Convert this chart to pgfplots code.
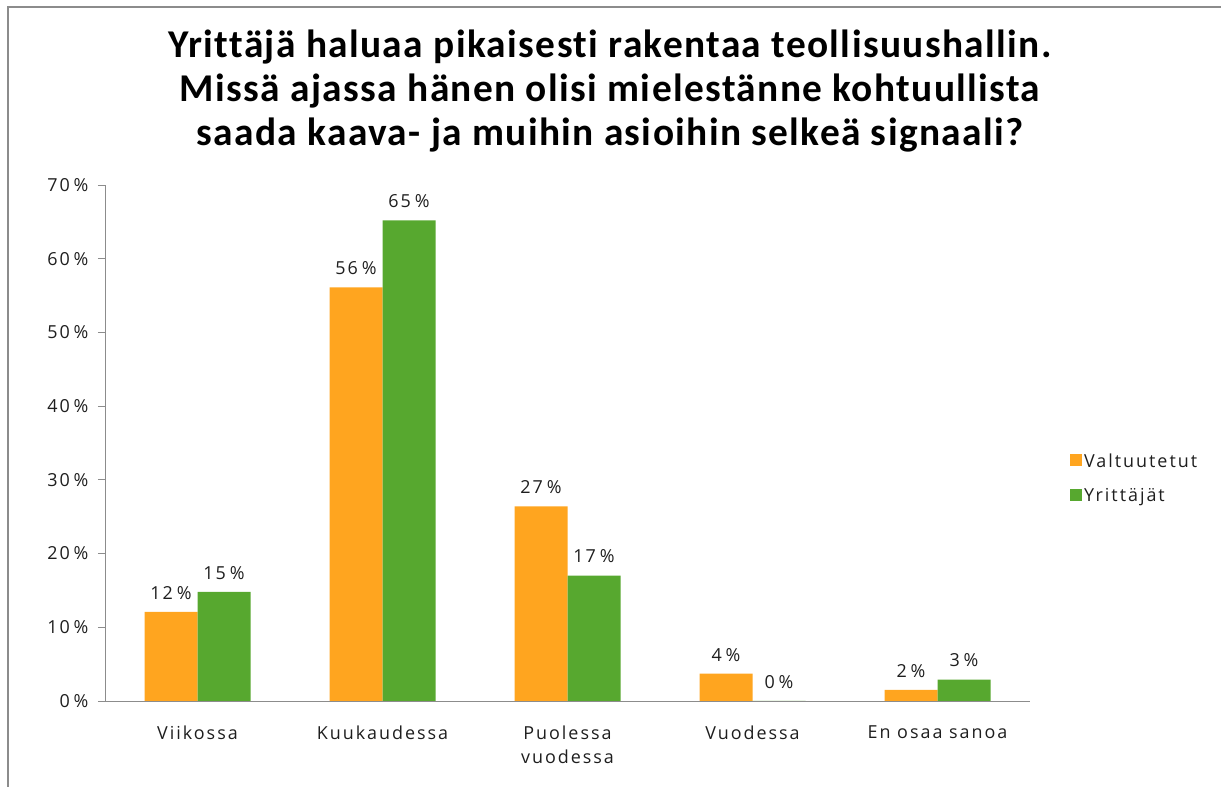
\documentclass[border=0pt]{standalone}
\usepackage{fontspec}
\setmainfont{Open Sans}
\newfontfamily\lab[LetterSpace=11]{Open Sans}
\newfontfamily\ttl[LetterSpace=3.5, Ligatures={NoCommon}]{Carlito}
\usepackage{pgfplots}
\pgfplotsset{compat=1.18}
\definecolor{cOr}{RGB}{255,165,31}
\definecolor{cGr}{RGB}{87,168,47}
\definecolor{axgray}{RGB}{140,140,140}
\definecolor{txt}{RGB}{30,30,30}
\newcommand{\pc}{\hspace{0.22em}\%}
\begin{document}
\begin{tikzpicture}
\path[use as bounding box] (0,0) rectangle (1221bp,787bp);
\draw[axgray, line width=2bp] (8bp,0) -- (8bp,780bp) -- (1221bp,780bp);
\node[anchor=north, align=center, inner sep=0pt, font=\ttl\fontsize{39.5}{44}\selectfont\bfseries]
  at (610bp,757bp) {Yrittäjä haluaa pikaisesti rakentaa teollisuushallin.\\Missä ajassa hänen olisi mielestänne kohtuullista\\saada kaava- ja muihin asioihin selkeä signaali?};
\begin{axis}[
  at={(105bp,86bp)}, anchor=south west,
  scale only axis, width=925bp, height=516bp,
  xmin=-0.5, xmax=4.5, ymin=0, ymax=70,
  ybar=0pt, bar width=53bp,
  axis x line*=bottom, axis y line*=left,
  axis line style={axgray, line width=0.8pt},
  tick style={axgray, line width=0.8pt},
  tick align=outside,
  xtick={0,1,2,3,4},
  major x tick style={draw=none},
  xticklabels={Viikossa,Kuukaudessa,Puolessa\\vuodessa,Vuodessa,En osaa sanoa},
  xticklabel style={align=center, font=\lab\fontsize{18}{24}\selectfont, text=txt, yshift=-14bp},
  extra x ticks={-0.5,0.5,1.5,2.5,3.5,4.5},
  extra x tick labels={},
  extra x tick style={major tick length=7bp, tick style={axgray, line width=0.8pt}},
  ytick={0,10,...,70},
  major tick length=7bp,
  yticklabels={0\pc,10\pc,20\pc,30\pc,40\pc,50\pc,60\pc,70\pc},
  yticklabel style={font=\lab\fontsize{18}{21}\selectfont, text=txt, xshift=-6bp},
  point meta=explicit symbolic,
  nodes near coords,
  nodes near coords style={font=\lab\fontsize{18}{21}\selectfont, text=txt, yshift=9bp},
  legend style={at={(1.040,0.431)}, anchor=west, draw=none, fill=none,
    font=\lab\fontsize{18}{21}\selectfont, text=txt, row sep=16bp,
    /tikz/every even column/.append style={column sep=4bp}},
  legend cell align=left,
  legend image code/.code={\fill[#1] (0bp,-5bp) rectangle (12bp,7bp);},
]
\addplot[fill=cOr, draw=none] coordinates {
  (0,12.1) [12\pc]
  (1,56.1) [56\pc]
  (2,26.4) [27\pc]
  (3,3.7) [4\pc]
  (4,1.5) [2\pc]
};
\addplot[fill=cGr, draw=none] coordinates {
  (0,14.8) [15\pc]
  (1,65.2) [65\pc]
  (2,17.0) [17\pc]
  (3,0) [0\pc]
  (4,2.9) [3\pc]
};
\legend{Valtuutetut,Yrittäjät}
\end{axis}
\end{tikzpicture}
\end{document}
